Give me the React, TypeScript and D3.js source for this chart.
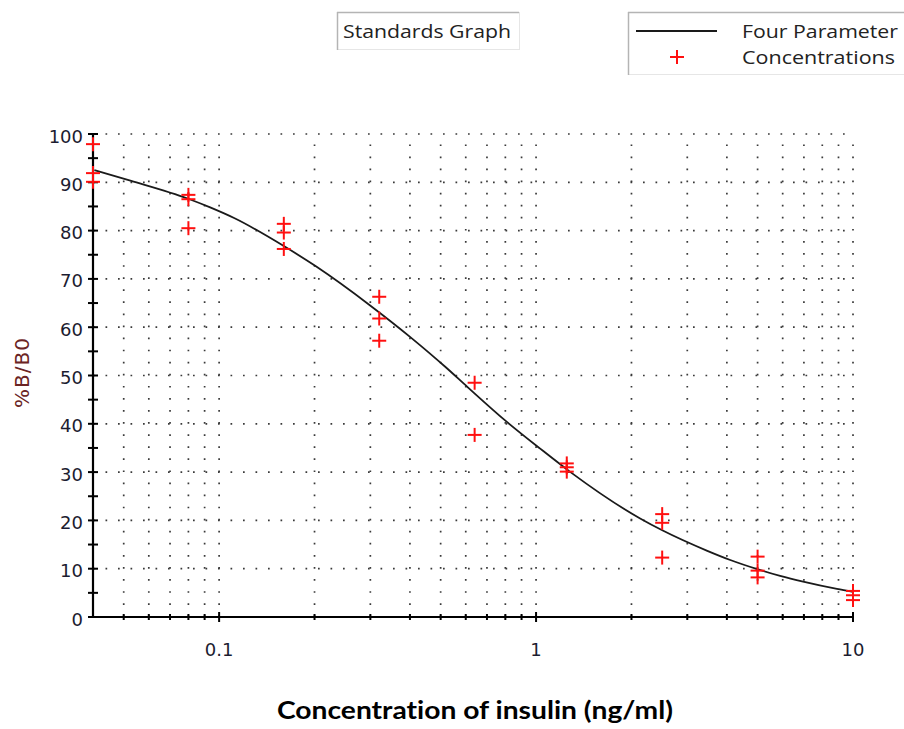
import React from "react";
import * as d3 from "d3";

// ---- data ----
const xMajorTicks = [0.1, 1, 10];
const xMajorLabels = ["0.1", "1", "10"];
const xMinorTicks = [0.05, 0.06, 0.07, 0.08, 0.09, 0.2, 0.3, 0.4, 0.5, 0.6, 0.7, 0.8, 0.9, 2, 3, 4, 5, 6, 7, 8, 9];
const yLabelTicks = [0, 10, 20, 30, 40, 50, 60, 70, 80, 90, 100];
const yMinorTicks = [5, 15, 25, 35, 45, 55, 65, 75, 85, 95];

const pointX = [0.04, 0.04, 0.04, 0.08, 0.08, 0.08, 0.16, 0.16, 0.16, 0.32, 0.32, 0.32, 0.64, 0.64, 1.25, 1.25, 1.25, 2.5, 2.5, 2.5, 5, 5, 5, 10, 10, 10];
const pointY = [97.9, 91.9, 90.1, 87.4, 86.5, 80.5, 81.4, 79.6, 76.2, 66.3, 61.8, 57.2, 48.5, 37.7, 31.8, 31.0, 30.1, 21.3, 19.5, 12.3, 12.5, 9.6, 8.2, 5.4, 4.5, 3.5];

const curveX = [0.0404, 0.0528, 0.0799, 0.0937, 0.1115, 0.16, 0.202, 0.301, 0.402, 0.519, 0.608, 0.802, 1.033, 1.284, 2.13, 2.51, 3.47, 4.1, 4.99, 5.89, 6.96, 8.9, 10];
const curveY = [92.5, 90.3, 86.6, 84.8, 82.6, 76.8, 72.6, 64.4, 57.9, 51.7, 47.6, 40.6, 34.8, 30.0, 20.4, 17.9, 13.7, 11.8, 9.9, 8.5, 7.3, 5.8, 5.2];

const titleText = "Standards Graph";
const legendLine = "Four Parameter";
const legendPoints = "Concentrations";
const xTitle = "Concentration of insulin (ng/ml)";
const yTitle = "%B/B0";

export default function App() {
  const W = 904, H = 729;
  const x = d3.scaleLog().domain([0.04, 10]).range([93, 853]);
  const y = d3.scaleLinear().domain([0, 100]).range([617, 134]);
  const [x0, x1] = x.range();
  const [y0, y1] = y.range();

  const line = d3
    .line<number>()
    .x((_, i) => x(curveX[i]))
    .y((d) => y(d))
    .curve(d3.curveMonotoneX);

  const gridColor = "#3a3a3a";
  const vGrid = [...xMinorTicks, ...xMajorTicks];
  const hGrid = yLabelTicks.filter((v) => v > 0);
  const tickFont = "'DejaVu Sans', Verdana, sans-serif";
  const uiFont = "'Open Sans', 'Noto Sans', sans-serif";

  return (
    <svg width={W} height={H} style={{ position: "absolute", left: 0, top: 0, background: "#fff" }}>
      {/* grid */}
      <g>
        {vGrid.map((v, i) => (
          <line key={"vg" + i} x1={x(v)} x2={x(v)} y1={y0} y2={y1}
            stroke={gridColor} strokeWidth={1.7} strokeDasharray="1.7 10.375" strokeDashoffset={-12.075} />
        ))}
        {hGrid.map((v, i) => (
          <line key={"hg" + i} x1={x0} x2={x1} y1={y(v)} y2={y(v)}
            stroke={gridColor} strokeWidth={1.7} strokeDasharray="1.7 10.8" strokeDashoffset={-12.5} />
        ))}
      </g>

      {/* axes */}
      <line x1={x0} x2={x0} y1={y0 + 1} y2={y1 - 1} stroke="#000" strokeWidth={2.2} />
      <line x1={x0 - 1} x2={x1} y1={y0} y2={y0} stroke="#000" strokeWidth={2.2} />
      {[...yLabelTicks, ...yMinorTicks].map((v, i) => (
        <line key={"yt" + i} x1={x0 - 5} x2={x0 + 5} y1={y(v)} y2={y(v)} stroke="#000" strokeWidth={2} />
      ))}
      {xMinorTicks.map((v, i) => (
        <line key={"xmt" + i} x1={x(v)} x2={x(v)} y1={y0 - 3} y2={y0 + 3} stroke="#000" strokeWidth={2} />
      ))}
      {xMajorTicks.map((v, i) => (
        <line key={"xMt" + i} x1={x(v)} x2={x(v)} y1={y0 - 5} y2={y0 + 5} stroke="#000" strokeWidth={2} />
      ))}

      {/* tick labels */}
      {yLabelTicks.map((v, i) => (
        <text key={"yl" + i} x={83} y={y(v) + 8.5} textAnchor="end" fontFamily={tickFont} fontSize={18} fill="#1c1c30">
          {v}
        </text>
      ))}
      {xMajorTicks.map((v, i) => (
        <text key={"xl" + i} x={x(v)} y={656} textAnchor="middle" fontFamily={tickFont} fontSize={18} fill="#1c1c30">
          {xMajorLabels[i]}
        </text>
      ))}

      {/* curve */}
      <path d={line(curveY) || ""} fill="none" stroke="#1a1a1a" strokeWidth={1.8} />

      {/* points */}
      {pointY.map((v, i) => {
        const cx = x(pointX[i]);
        const cy = y(v);
        return (
          <g key={"p" + i} stroke="#ff1010" strokeWidth={2}>
            <line x1={cx - 7} x2={cx + 7} y1={cy} y2={cy} />
            <line x1={cx} x2={cx} y1={cy - 7} y2={cy + 7} />
          </g>
        );
      })}

      {/* axis titles */}
      <text x={0} y={0} transform="translate(29,373) rotate(-90)" textAnchor="middle"
        fontFamily={tickFont} fontSize={20} fill="#6b2424" textLength={70} lengthAdjust="spacing">
        {yTitle}
      </text>
      <text x={475} y={719} textAnchor="middle" fontFamily="Lato, 'Open Sans', sans-serif" fontWeight="bold"
        fontSize={24} fill="#000" textLength={396} lengthAdjust="spacingAndGlyphs"
        style={{ fontVariantLigatures: "none" }}>
        {xTitle}
      </text>

      {/* title box */}
      <rect x={337.5} y={12.5} width={182} height={37} fill="#fff" stroke="#e6e6e6" strokeWidth={1} />
      <line x1={337.5} x2={337.5} y1={12} y2={50} stroke="#b4b4b4" strokeWidth={1.5} />
      <line x1={337} x2={519} y1={12.5} y2={12.5} stroke="#b4b4b4" strokeWidth={1.5} />
      <text x={343} y={38} fontFamily={uiFont} fontSize={18} fill="#222" textLength={168} lengthAdjust="spacingAndGlyphs">
        {titleText}
      </text>

      {/* legend box */}
      <rect x={628.5} y={12.5} width={300} height={62} fill="#fff" stroke="#e6e6e6" strokeWidth={1} />
      <line x1={628.5} x2={628.5} y1={12} y2={75} stroke="#b4b4b4" strokeWidth={1.5} />
      <line x1={628} x2={904} y1={12.5} y2={12.5} stroke="#b4b4b4" strokeWidth={1.5} />
      <line x1={636} x2={717} y1={31} y2={31} stroke="#1a1a1a" strokeWidth={2} />
      <g stroke="#ff1010" strokeWidth={2}>
        <line x1={670} x2={684} y1={57} y2={57} />
        <line x1={677} x2={677} y1={50} y2={64} />
      </g>
      <text x={742} y={38} fontFamily={uiFont} fontSize={18} fill="#222" textLength={156} lengthAdjust="spacingAndGlyphs">
        {legendLine}
      </text>
      <text x={742} y={64} fontFamily={uiFont} fontSize={18} fill="#222" textLength={153} lengthAdjust="spacingAndGlyphs">
        {legendPoints}
      </text>
    </svg>
  );
}
